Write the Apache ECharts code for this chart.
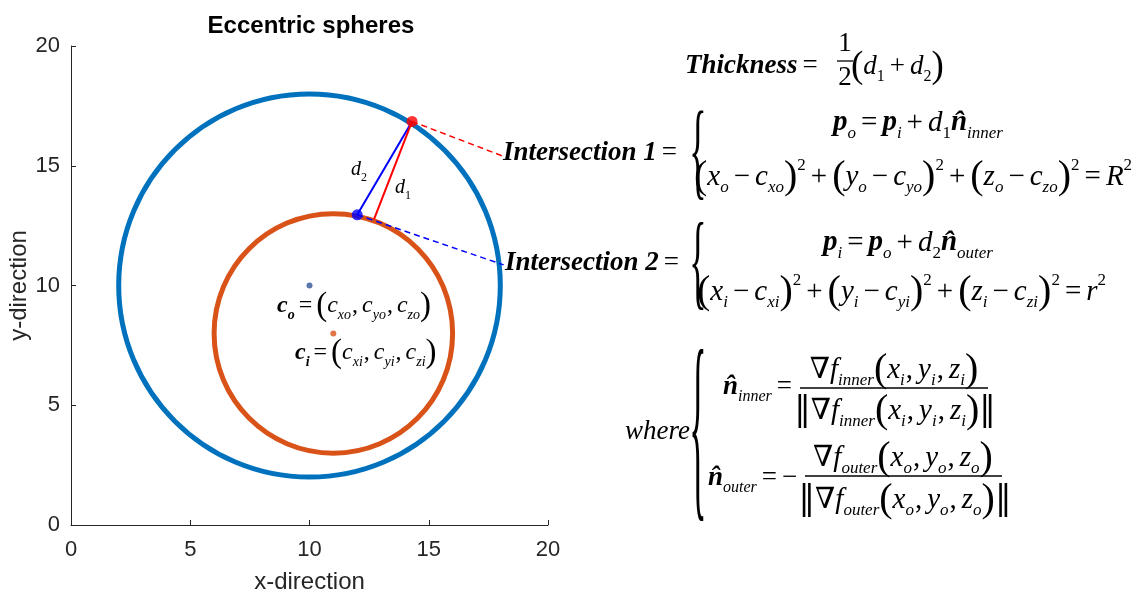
<!DOCTYPE html>
<html><head><meta charset="utf-8">
<script src="https://cdn.jsdelivr.net/npm/echarts@6/dist/echarts.min.js"></script>
<style>html,body{margin:0;padding:0;background:#fff}#c{width:1140px;height:594px}</style>
</head><body><div id="c"></div>
<script>
// ---------------- data ----------------
const xTicks = [0, 5, 10, 15, 20];
const yTicks = [0, 5, 10, 15, 20];
const outerSphere = [10, 10, 8];      // centre x, centre y, radius R
const innerSphere = [11, 8, 5];       // centre x, centre y, radius r
const outerCenter = [10, 10];
const innerCenter = [11, 8];
const intersection1 = [14.3, 16.85];  // red point on the outer sphere
const intersection2 = [12.0, 12.95];  // blue point on the inner sphere
const d1Foot = [12.7, 12.75];         // foot of d1 on the inner sphere
const leader1End = [18.06, 15.42];    // dashed leader to "Intersection 1"
const leader2End = [18.14, 10.86];    // dashed leader to "Intersection 2"

// ---------------- styling helpers ----------------
const SANS = "'Liberation Sans', Arial, sans-serif";
const SERIF = "'Liberation Serif','DejaVu Serif',serif";
const AX = '#262626';

function mathRich(M) {
  const sub = Math.round(M * 0.6);
  const LH = Math.round(M * 1.35);
  const pad = Math.round(M * 0.17);
  const base = {fontFamily: SERIF, fontSize: M, lineHeight: LH, fill: '#000'};
  const s = {fontFamily: SERIF, fontSize: sub, fill: '#000'};
  return {
    bi: Object.assign({}, base, {fontStyle: 'italic', fontWeight: 'bold'}),
    i: Object.assign({}, base, {fontStyle: 'italic'}),
    r: Object.assign({}, base),
    op: Object.assign({}, base, {padding: [0, pad]}),
    cm: Object.assign({}, base, {padding: [0, pad, 0, 1]}),
    P: Object.assign({}, base, {fontSize: Math.round(M * 1.38)}),
    N: Object.assign({}, base, {fontSize: Math.round(M * 1.15), fontFamily: "'DejaVu Serif',serif"}),
    sb: Object.assign({}, s, {fontStyle: 'italic', verticalAlign: 'bottom'}),
    sbb: Object.assign({}, s, {fontStyle: 'italic', fontWeight: 'bold', verticalAlign: 'bottom'}),
    sbr: Object.assign({}, s, {verticalAlign: 'bottom'}),
    sp: Object.assign({}, s, {verticalAlign: 'top'})
  };
}
function eq(x, y, tokens, M, align) {
  const a = align || 'left';
  return {
    type: 'text', x: x, y: y, z: 100,
    style: {
      text: tokens.map(t => '{' + t[0] + '|' + t[1] + '}').join(''),
      rich: mathRich(M), fill: '#000',
      align: a, textAlign: a, verticalAlign: 'middle', textVerticalAlign: 'middle'
    }
  };
}
function brace(cx, top, bottom) {
  const fs = 36;
  const s = (bottom - top) / (0.83 * fs);
  return {
    type: 'text', x: cx, y: (top + bottom) / 2 + 0.02 * fs * s, scaleY: s, z: 100,
    style: {text: '{', fontFamily: SERIF, fontSize: fs, fill: '#000',
      align: 'center', textAlign: 'center', verticalAlign: 'middle', textVerticalAlign: 'middle'}
  };
}
function bar(x1, x2, y) {
  return {type: 'line', z: 100, shape: {x1: x1, y1: y, x2: x2, y2: y}, style: {stroke: '#000', lineWidth: 1.3}};
}
function gradTokens(name, s) {
  return [['r', '\u2207'], ['i', 'f'], ['sb', name], ['P', '('], ['i', 'x'], ['sb', s], ['cm', ','],
          ['i', 'y'], ['sb', s], ['cm', ','], ['i', 'z'], ['sb', s], ['P', ')']];
}
function sphereTokens(s, rhs) {
  const t = [];
  ['x', 'y', 'z'].forEach((v, k) => {
    if (k) t.push(['op', '+']);
    t.push(['P', '('], ['i', v], ['sb', s], ['op', '\u2212'], ['i', 'c'], ['sb', v + s], ['P', ')'], ['sp', '2']);
  });
  t.push(['op', '='], ['i', rhs], ['sp', '2']);
  return t;
}
function centreTokens(s) {
  return [['bi', 'c'], ['sbb', s], ['op', '='], ['P', '('], ['i', 'c'], ['sb', 'x' + s], ['cm', ','],
          ['i', 'c'], ['sb', 'y' + s], ['cm', ','], ['i', 'c'], ['sb', 'z' + s], ['P', ')']];
}

const L = 27;   // label size (Thickness / Intersection / where)
const M = 29;   // formula size
const graphics = [
  {type: 'text', x: 311, y: 26, z: 100, style: {text: 'Eccentric spheres', fontFamily: SANS, fontSize: 24,
    fontWeight: 'bold', fill: '#000', align: 'center', textAlign: 'center', verticalAlign: 'middle', textVerticalAlign: 'middle'}},
  // in-plot annotations
  eq(351, 170, [['i', 'd'], ['sbr', '2']], 20),
  eq(395, 188, [['i', 'd'], ['sbr', '1']], 20),
  eq(277, 306, centreTokens('o'), 24),
  eq(295, 353, centreTokens('i'), 24),
  // Thickness
  eq(685, 66, [['bi', 'Thickness'], ['op', '=']], L),
  eq(845, 44, [['r', '1']], L, 'center'),
  bar(837, 853, 61),
  eq(845, 78, [['r', '2']], L, 'center'),
  eq(851, 67, [['P', '('], ['i', 'd'], ['sbr', '1'], ['op', '+'], ['i', 'd'], ['sbr', '2'], ['P', ')']], L),
  // Intersection 1
  eq(503, 153, [['bi', 'Intersection 1'], ['op', '=']], L),
  brace(698, 110, 200),
  eq(918, 123, [['bi', 'p'], ['sb', 'o'], ['op', '='], ['bi', 'p'], ['sb', 'i'], ['op', '+'], ['i', 'd'], ['sbr', '1'],
                ['bi', 'n\u0302'], ['sb', 'inner']], M, 'center'),
  eq(694, 177, sphereTokens('o', 'R'), M),
  // Intersection 2
  eq(505, 263, [['bi', 'Intersection 2'], ['op', '=']], L),
  brace(698, 223, 310),
  eq(908, 243, [['bi', 'p'], ['sb', 'i'], ['op', '='], ['bi', 'p'], ['sb', 'o'], ['op', '+'], ['i', 'd'], ['sbr', '2'],
                ['bi', 'n\u0302'], ['sb', 'outer']], M, 'center'),
  eq(697, 292, sphereTokens('i', 'r'), M),
  // where
  eq(625, 432, [['i', 'where']], L),
  brace(698, 348, 520),
  eq(723, 387, [['bi', 'n\u0302'], ['sb', 'inner'], ['op', '=']], L),
  eq(894, 370, gradTokens('inner', 'i'), M, 'center'),
  bar(800, 988, 388),
  eq(895, 411, [['N', '\u2016']].concat(gradTokens('inner', 'i'), [['N', '\u2016']]), M, 'center'),
  eq(708, 478, [['bi', 'n\u0302'], ['sb', 'outer'], ['op', '='], ['r', '\u2212']], L),
  eq(903, 458, gradTokens('outer', 'o'), M, 'center'),
  bar(805, 1002, 476),
  eq(905, 500, [['N', '\u2016']].concat(gradTokens('outer', 'o'), [['N', '\u2016']]), M, 'center')
];

function circleItem(color) {
  return function (params, api) {
    const c = api.coord([api.value(0), api.value(1)]);
    const d = api.value(2) * 2;
    const s = api.size([d, d]);
    return {type: 'ellipse', shape: {cx: c[0], cy: c[1], rx: s[0] / 2, ry: s[1] / 2},
      style: {fill: 'none', stroke: color, lineWidth: 5}};
  };
}
function seg(a, b, color, width, dashed) {
  return {type: 'line', data: [a, b], symbol: 'none', z: 3, silent: true,
    lineStyle: {color: color, width: width, type: dashed ? [6, 4] : 'solid'}};
}
function axisBase(ticks, name, gap, margin) {
  return {
    type: 'value', min: ticks[0], max: ticks[ticks.length - 1], interval: ticks[1] - ticks[0],
    name: name, nameLocation: 'middle', nameGap: gap,
    nameTextStyle: {fontFamily: SANS, fontSize: 24, color: AX},
    axisLine: {show: true, onZero: false, lineStyle: {color: AX, width: 1}},
    axisTick: {show: true, inside: true, length: 5, lineStyle: {color: AX}},
    axisLabel: {fontFamily: SANS, fontSize: 22, color: AX, margin: margin},
    splitLine: {show: false}
  };
}

const chart = echarts.init(document.getElementById('c'));
chart.setOption({
  animation: false,
  backgroundColor: '#fff',
  grid: {left: 71, top: 46, right: 592, bottom: 69, containLabel: false, outerBoundsMode: 'none'},
  xAxis: axisBase(xTicks, 'x-direction', 45, 14),
  yAxis: axisBase(yTicks, 'y-direction', 36, 11),
  graphic: graphics,
  series: [
    {type: 'custom', name: 'outer sphere', coordinateSystem: 'cartesian2d', data: [outerSphere],
     encode: {x: 0, y: 1}, z: 2, silent: true, renderItem: circleItem('#0072BD')},
    {type: 'custom', name: 'inner sphere', coordinateSystem: 'cartesian2d', data: [innerSphere],
     encode: {x: 0, y: 1}, z: 2, silent: true, renderItem: circleItem('#D95319')},
    seg(intersection1, leader1End, '#FF0000', 1.5, true),
    seg(intersection2, leader2End, '#0000FF', 1.5, true),
    seg(intersection2, intersection1, '#0000FF', 2, false),
    seg(intersection1, d1Foot, '#FF0000', 2, false),
    {type: 'scatter', data: [outerCenter], symbolSize: 6, z: 4, silent: true, itemStyle: {color: '#2F5597'}},
    {type: 'scatter', data: [innerCenter], symbolSize: 6, z: 4, silent: true, itemStyle: {color: '#D95319'}},
    {type: 'scatter', data: [intersection1], symbolSize: 11, z: 5, silent: true, itemStyle: {color: '#FF0000'}},
    {type: 'scatter', data: [intersection2], symbolSize: 11, z: 5, silent: true, itemStyle: {color: '#0000FF'}}
  ]
});
</script>
</body></html>
